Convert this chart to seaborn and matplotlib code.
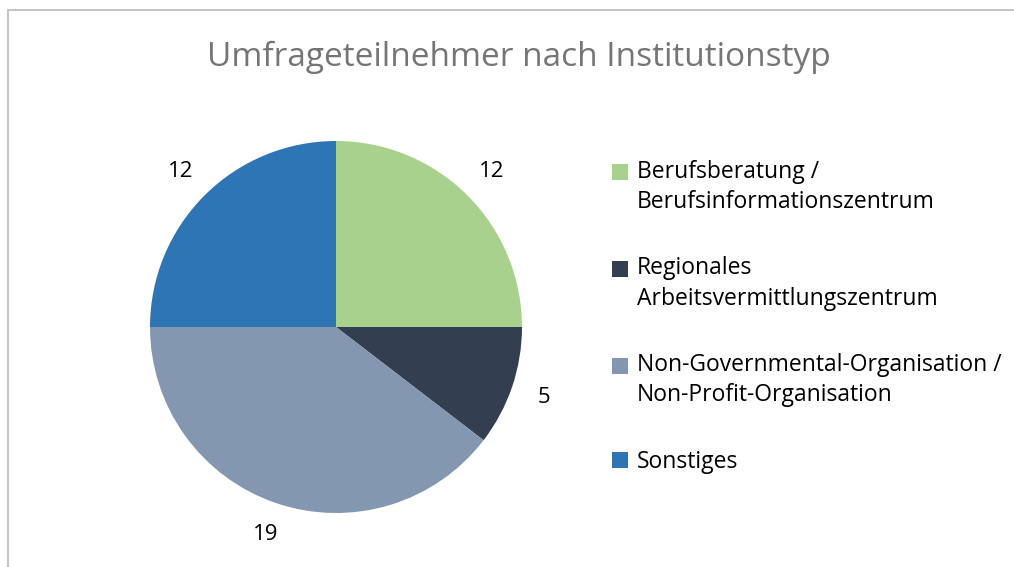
import matplotlib.pyplot as plt
import seaborn as sns
from matplotlib.patches import Rectangle

# Chart data
categories = [
    "Berufsberatung /\nBerufsinformationszentrum",
    "Regionales\nArbeitsvermittlungszentrum",
    "Non-Governmental-Organisation /\nNon-Profit-Organisation",
    "Sonstiges",
]
counts = [12, 5, 19, 12]
colors = ["#A9D18E", "#333F50", "#8497B0", "#2E75B6"]
title = "Umfrageteilnehmer nach Institutionstyp"

sns.set_theme(style="white")
plt.rcParams['font.family'] = ['Open Sans', 'DejaVu Sans']

W, H = 1014, 567
fig = plt.figure(figsize=(W / 100, H / 100), dpi=100)

# Chart border (top and left visible, right/bottom cropped)
fig.patches.append(Rectangle((8 / W, -0.1), 1.2, (H - 10) / H + 0.1,
                             transform=fig.transFigure, fill=False,
                             edgecolor="#BFBFBF", linewidth=1.3))

# Pie area
cx, cy, r = 336, 327, 186
ax = fig.add_axes([(cx - r) / W, (H - cy - r) / H, 2 * r / W, 2 * r / H])
total = sum(counts)
wedges, texts, autotexts = ax.pie(
    counts, colors=sns.color_palette(colors), startangle=90, counterclock=False,
    autopct=lambda p: f"{round(p * total / 100)}", pctdistance=1.18,
    wedgeprops=dict(linewidth=0), textprops=dict(fontsize=16, color="black"))
ax.set_xlim(-1, 1)
ax.set_ylim(-1, 1)
ax.set_aspect("equal")

fig.text(519 / W, 1 - 57 / H, title, ha="center", va="center",
         fontsize=24, color="#757575")

leg = fig.legend(wedges, categories, loc="upper left",
                 bbox_to_anchor=(591 / W, 1 - 139 / H), frameon=False,
                 fontsize=16.5, handlelength=0.7, handleheight=0.7,
                 handletextpad=0.4, labelspacing=1.85, labelcolor="black")
for t in leg.get_texts():
    t.set_linespacing(1.35)
# keep the colour square next to the first line of two-line entries
for lab, h in zip(categories, leg.legend_handles):
    if "\n" in lab:
        h.set_y(h.get_y() + 11)

fig.savefig("out.png", dpi=100)
